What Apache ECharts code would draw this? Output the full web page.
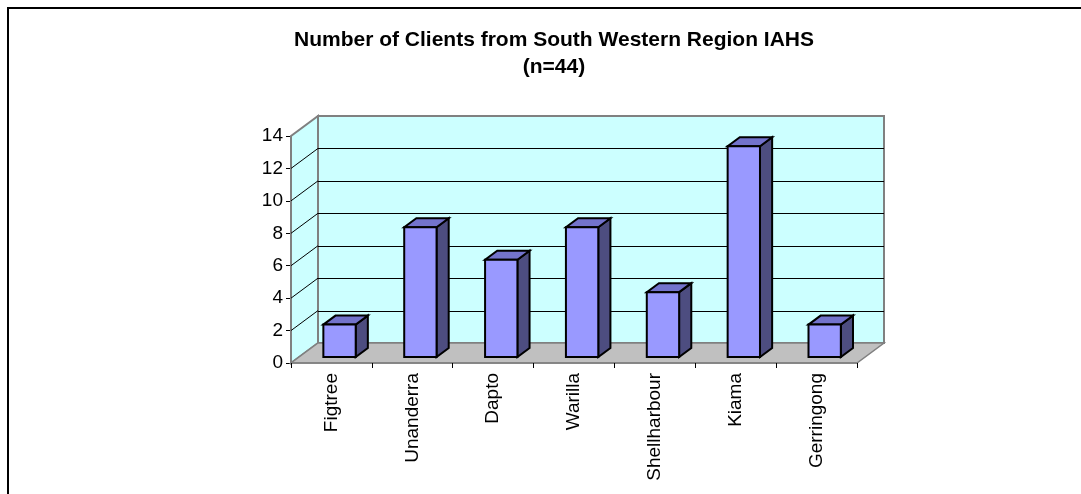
<!DOCTYPE html>
<html>
<head>
<meta charset="utf-8">
<script src="https://cdn.jsdelivr.net/npm/echarts@6/dist/echarts.min.js"></script>
<style>
  html, body { margin: 0; padding: 0; background: #ffffff; }
  #chart { width: 1081px; height: 494px; }
</style>
</head>
<body>
<div id="chart"></div>
<script>
// Clients per location, South Western Region IAHS
const categories = ['Figtree', 'Unanderra', 'Dapto', 'Warilla', 'Shellharbour', 'Kiama', 'Gerringong'];
const clients = [2, 8, 6, 8, 4, 13, 2];
const yTicks = [0, 2, 4, 6, 8, 10, 12, 14];

const FONT = '"Liberation Sans", Arial, Helvetica, sans-serif';

// Pseudo-3D depth of the plot box (pixels from front plane to back wall)
const DEPTH_X = 27;
const DEPTH_Y = -20;
// Columns sit between these fractions of the depth
const BAR_FRONT = 0.3;
const BAR_DEPTH = 0.45;
const BAR_WIDTH_RATIO = 0.4;

const WALL_FILL = '#CCFFFF';
const WALL_EDGE = '#808080';
const FLOOR_FILL = '#C0C0C0';

function crisp(v) { return Math.round(v) + 0.5; }

// Back wall, side wall, floor and gridlines
function renderWalls(params, api) {
  const cs = params.coordSys;
  const gx = cs.x, gy = cs.y, gw = cs.width, gh = cs.height;
  const children = [];

  children.push({
    type: 'polygon',
    shape: { points: [[gx, gy + gh], [gx + DEPTH_X, gy + gh + DEPTH_Y], [gx + DEPTH_X, gy + DEPTH_Y], [gx, gy]] },
    style: { fill: WALL_FILL, stroke: WALL_EDGE, lineWidth: 2 }
  });
  children.push({
    type: 'rect',
    shape: { x: gx + DEPTH_X, y: gy + DEPTH_Y, width: gw, height: gh },
    style: { fill: WALL_FILL, stroke: WALL_EDGE, lineWidth: 2 }
  });

  yTicks.forEach(function (v) {
    if (v === yTicks[0] || v === yTicks[yTicks.length - 1]) return;
    const y = api.coord([0, v])[1];
    const yb = crisp(y + DEPTH_Y);
    children.push({
      type: 'line',
      shape: { x1: gx + DEPTH_X, y1: yb, x2: gx + DEPTH_X + gw, y2: yb },
      style: { stroke: '#000000', lineWidth: 1 }
    });
    children.push({
      type: 'line',
      shape: { x1: gx, y1: y, x2: gx + DEPTH_X, y2: y + DEPTH_Y },
      style: { stroke: '#000000', lineWidth: 1 }
    });
  });

  children.push({
    type: 'polygon',
    shape: { points: [[gx, gy + gh], [gx + gw, gy + gh], [gx + gw + DEPTH_X, gy + gh + DEPTH_Y], [gx + DEPTH_X, gy + gh + DEPTH_Y]] },
    style: { fill: FLOOR_FILL, stroke: WALL_EDGE, lineWidth: 1.5 }
  });

  return { type: 'group', children: children };
}

// One shaded 3D column per category
function renderColumn(params, api) {
  const idx = api.value(0);
  const val = api.value(1);
  const base = api.coord([idx, 0]);
  const top = api.coord([idx, val]);
  const band = api.size([1, 0])[0];
  const hw = band * BAR_WIDTH_RATIO / 2;
  const ox = DEPTH_X * BAR_FRONT, oy = DEPTH_Y * BAR_FRONT;
  const dx = DEPTH_X * BAR_DEPTH, dy = DEPTH_Y * BAR_DEPTH;
  const cx = base[0] + ox;
  const x0 = cx - hw, x1 = cx + hw;
  const yb = base[1] + oy;
  const yt = top[1] + oy;
  const edge = { stroke: '#000000', lineWidth: 2, lineJoin: 'miter' };

  return {
    type: 'group',
    children: [
      {
        type: 'polygon',
        shape: { points: [[x1, yt], [x1 + dx, yt + dy], [x1 + dx, yb + dy], [x1, yb]] },
        style: Object.assign({ fill: '#4D4D80' }, edge)
      },
      {
        type: 'polygon',
        shape: { points: [[x0, yt], [x1, yt], [x1 + dx, yt + dy], [x0 + dx, yt + dy]] },
        style: Object.assign({ fill: '#7373CC' }, edge)
      },
      {
        type: 'rect',
        shape: { x: x0, y: yt, width: x1 - x0, height: yb - yt },
        style: Object.assign({ fill: '#9999FF' }, edge)
      }
    ]
  };
}

const chart = echarts.init(document.getElementById('chart'), null, { renderer: 'canvas' });

chart.setOption({
  backgroundColor: '#ffffff',
  animation: false,
  title: {
    text: 'Number of Clients from South Western Region IAHS\n(n=44)',
    left: 549,
    top: 22,
    textAlign: 'center',
    textStyle: {
      fontFamily: FONT,
      fontSize: 21,
      fontWeight: 'bold',
      color: '#000000',
      lineHeight: 27
    }
  },
  graphic: [
    {
      type: 'rect',
      silent: true,
      shape: { x: 8, y: 8, width: 1200, height: 600 },
      style: { fill: null, stroke: '#000000', lineWidth: 2 }
    }
  ],
  grid: { left: 291, top: 136, width: 566, height: 227, containLabel: false },
  xAxis: {
    type: 'category',
    data: categories,
    boundaryGap: true,
    axisLine: { show: true, lineStyle: { color: '#808080', width: 1.5 } },
    axisTick: { show: true, length: 5, lineStyle: { color: '#000000', width: 1 } },
    axisLabel: {
      rotate: 90,
      margin: 10,
      interval: 0,
      fontFamily: FONT,
      fontSize: 19,
      color: '#000000'
    },
    splitLine: { show: false },
    z: 5
  },
  yAxis: {
    type: 'value',
    min: 0,
    max: 14,
    interval: 2,
    axisLine: { show: false },
    axisTick: { show: true, length: 5, lineStyle: { color: '#000000', width: 1 } },
    axisLabel: {
      margin: 8,
      fontFamily: FONT,
      fontSize: 19,
      color: '#000000',
      formatter: function (v) { return yTicks.indexOf(v) >= 0 ? String(v) : ''; }
    },
    splitLine: { show: false }
  },
  series: [
    {
      type: 'custom',
      name: 'walls',
      renderItem: renderWalls,
      data: [[0, 0]],
      silent: true,
      z: 1
    },
    {
      type: 'custom',
      name: 'Clients',
      renderItem: renderColumn,
      data: clients.map(function (v, i) { return [i, v]; }),
      encode: { x: 0, y: 1 },
      z: 3
    }
  ]
});
</script>
</body>
</html>
